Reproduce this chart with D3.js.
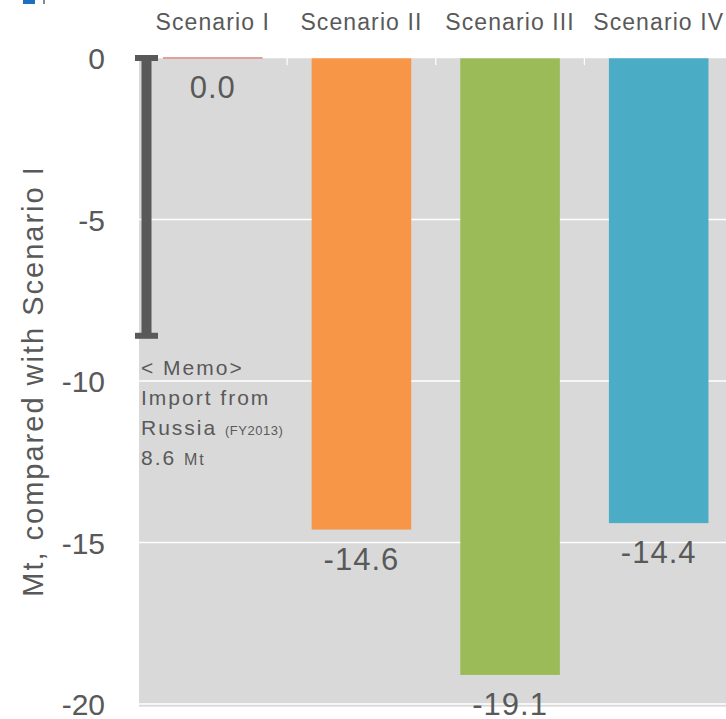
<!DOCTYPE html>
<html><head><meta charset="utf-8">
<script src="https://cdn.jsdelivr.net/npm/d3@7"></script>
<style>body{margin:0;background:#fff}svg{display:block}text{font-family:"Liberation Sans",Arial,sans-serif;fill:#595959}</style>
</head><body>
<svg id="c" width="726" height="719"></svg>
<script>
const categories = ["Scenario I","Scenario II","Scenario III","Scenario IV"];
const values = [0.0, -14.6, -19.1, -14.4];
const valueLabels = ["0.0","-14.6","-19.1","-14.4"];
const colors = ["#d9827f","#f79646","#9bbb59","#4bacc6"];
const yTicks = [0,-5,-10,-15,-20];
const memoValue = 8.6;
const memoLines = ["< Memo>","Import from","Russia","8.6"];

const svg = d3.select("#c");
const x = d3.scaleBand().domain(categories).range([138.5,733]).paddingInner(0.33).paddingOuter(0.165);
const y = d3.scaleLinear().domain([-20,0]).range([704,58]);

// top-left fragments
svg.append("rect").attr("x",23).attr("y",0).attr("width",12).attr("height",4).attr("fill","#1f6fbf");
svg.append("rect").attr("x",43).attr("y",0).attr("width",2).attr("height",4).attr("fill","#8a8a8a");

// plot background
svg.append("rect").attr("x",139).attr("y",y(0)).attr("width",600).attr("height",y(-20)-y(0)+2).attr("fill","#d9d9d9");
svg.append("line").attr("x1",139).attr("x2",740).attr("y1",y(-20)+2.5).attr("y2",y(-20)+2.5).attr("stroke","#e6e6e6").attr("stroke-width",1);

// gridlines
svg.append("g").selectAll("line").data(yTicks.filter(d=>d!==0)).join("line")
  .attr("x1",139).attr("x2",740).attr("y1",d=>y(d)).attr("y2",d=>y(d))
  .attr("stroke","#fff").attr("stroke-width",1.5);

// y tick labels
svg.append("g").selectAll("text").data(yTicks).join("text")
  .attr("x",105).attr("y",d=>y(d)+11).attr("text-anchor","end")
  .style("font-size","30px").text(d=>d);

// axis label
svg.append("text").attr("transform",`translate(43,${(y(0)+y(-20))/2}) rotate(-90)`)
  .attr("text-anchor","middle").style("font-size","29px").style("letter-spacing","2px")
  .text("Mt, compared with Scenario I");

// bars
svg.append("g").selectAll("rect").data(values).join("rect")
  .attr("x",(d,i)=>x(categories[i])).attr("width",x.bandwidth())
  .attr("y",d=>Math.min(y(d),y(0))-(d===0?1:0))
  .attr("height",d=>Math.max(Math.abs(y(d)-y(0)),2))
  .attr("fill",(d,i)=>colors[i]);

// zero axis line and category boundary ticks
svg.append("line").attr("x1",139).attr("x2",740).attr("y1",y(0)).attr("y2",y(0)).attr("stroke","#fff").attr("stroke-width",0.8).attr("opacity",0.6);
const bounds = categories.slice(1).map(c=>x(c)-x.step()*x.paddingInner()/2);
svg.append("g").selectAll("line").data(bounds).join("line")
  .attr("x1",d=>d).attr("x2",d=>d).attr("y1",y(0)).attr("y2",y(0)+7)
  .attr("stroke","#fff").attr("stroke-width",1.2);

// category labels
svg.append("g").selectAll("text").data(categories).join("text")
  .attr("x",d=>x(d)+x.bandwidth()/2).attr("y",30).attr("text-anchor","middle")
  .style("font-size","23px").style("letter-spacing","1.1px").text(d=>d);

// value labels
svg.append("g").selectAll("text").data(values).join("text")
  .attr("x",(d,i)=>x(categories[i])+x.bandwidth()/2)
  .attr("y",d=>y(d)+40).attr("text-anchor","middle")
  .style("font-size","31px").style("letter-spacing","1px")
  .text((d,i)=>valueLabels[i]);

// memo error bar
const ex = 146.5;
svg.append("rect").attr("x",ex-5).attr("y",y(0)).attr("width",10).attr("height",y(-memoValue)-y(0)).attr("fill","#595959");
[0,-memoValue].forEach(v=>svg.append("rect").attr("x",ex-11.5).attr("y",y(v)-3).attr("width",23).attr("height",6).attr("fill","#595959"));

// memo text
const mg = svg.append("g").style("font-size","21px").style("letter-spacing","2px");
mg.append("text").attr("x",141).attr("y",375).text(memoLines[0]);
mg.append("text").attr("x",141).attr("y",405).text(memoLines[1]);
const t3 = mg.append("text").attr("x",141).attr("y",435);
t3.append("tspan").text(memoLines[2]+" ");
t3.append("tspan").style("font-size","13px").style("letter-spacing","0.5px").text("(FY2013)");
const t4 = mg.append("text").attr("x",141).attr("y",465);
t4.append("tspan").text(memoLines[3]+" ");
t4.append("tspan").style("font-size","16px").text("Mt");
</script>
</body></html>
